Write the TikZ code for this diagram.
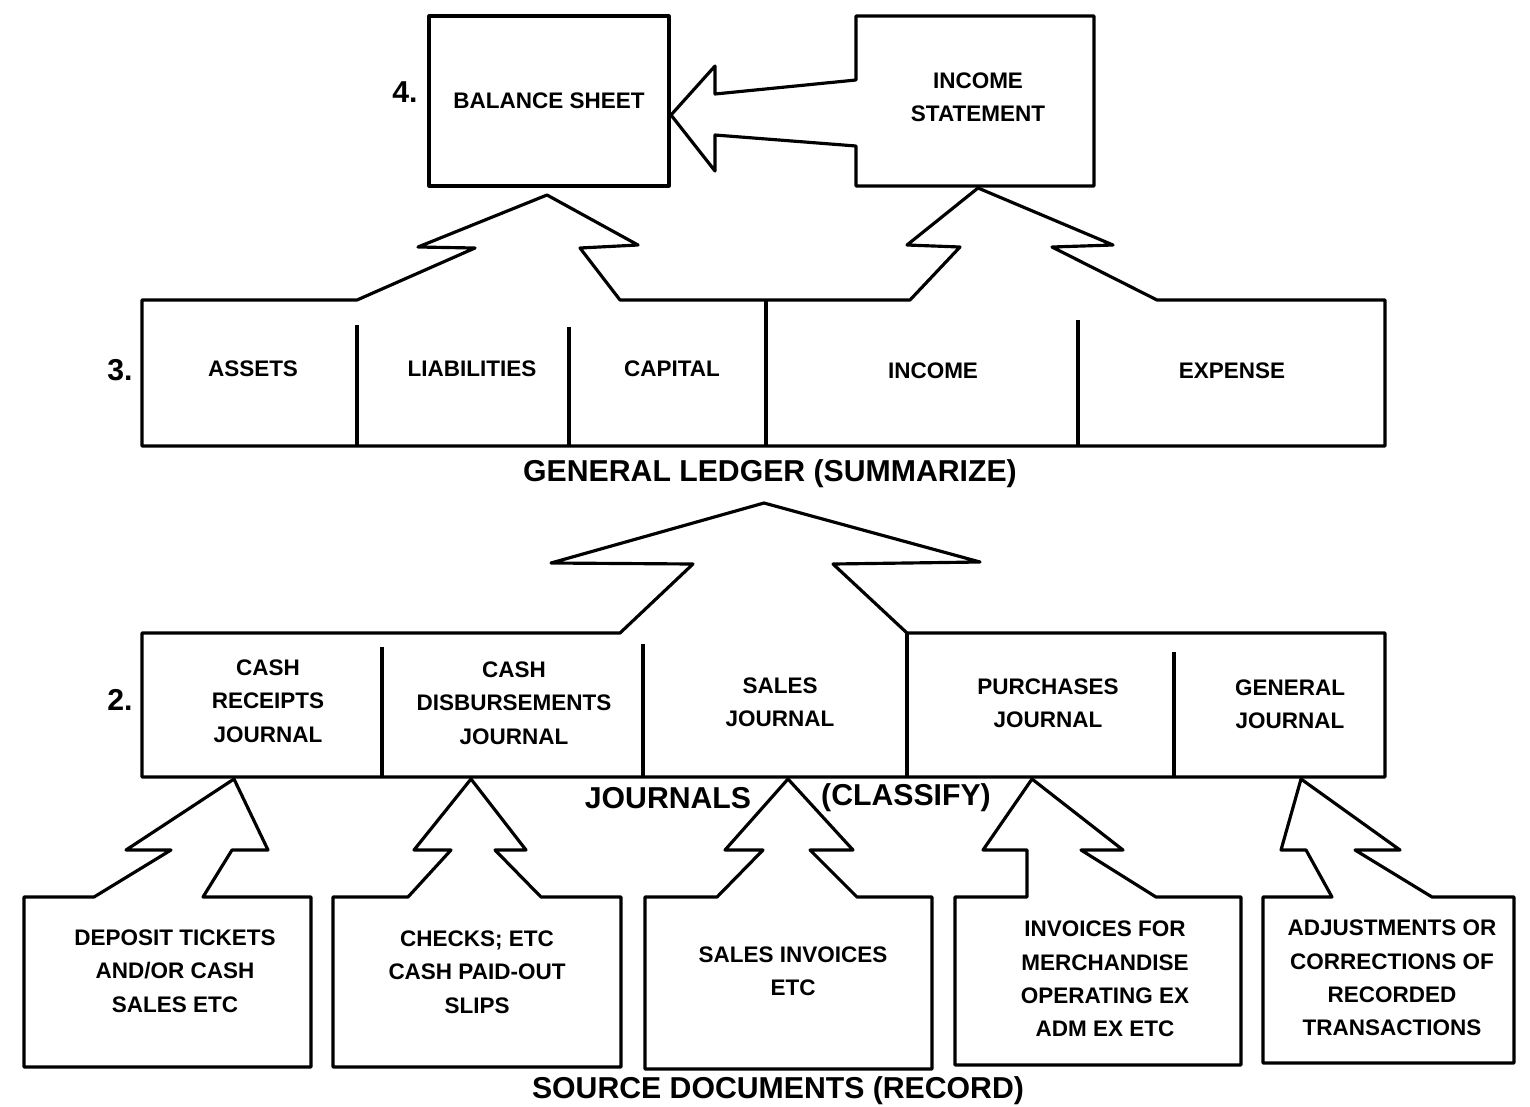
\documentclass[tikz,border=0pt]{standalone}
\usepackage{fontspec}
\setmainfont{Liberation Sans}

\tikzset{
	outline/.style={line width=1.8pt, line join=round},
	boxtext/.style={font=\fontsize{12.8}{19}\selectfont\bfseries, align=center, inner sep=0pt},
	bigtext/.style={font=\fontsize{17.2}{20}\selectfont\bfseries, inner sep=0pt},
}

\begin{document}
\begin{tikzpicture}[x=0.02cm, y=-0.02cm]
	\useasboundingbox (0,0) rectangle (1530,1106);

	\begin{scope}[outline] % 4. statements
		\node[draw, minimum width=4.8cm, minimum height=3.4cm, boxtext] (balance) at (549,101) {BALANCE SHEET};
		\draw (856,16) -- (1094,16) -- (1094,186) -- (856,186) -- (856,146) -- (715,135)
			-- (715,171) -- (671,115) -- (715,66) -- (715,94) -- (856,80) -- cycle;
		\node[boxtext] (incstat) at (978,97) {INCOME\\STATEMENT};
		\node[bigtext] (four) at (405,92) {4.};
	\end{scope}

	\begin{scope}[outline] % 3. general ledger
		\draw (142,300) -- (357,300) -- (475,248) -- (418,247) -- (547,195) -- (638,245) -- (580,248)
			-- (620,300) -- (910,300) -- (960,247) -- (907,245) -- (978,188) -- (1113,245) -- (1052,247)
			-- (1157,300) -- (1385,300) -- (1385,446) -- (142,446) -- cycle;
		\foreach \x/\ytop in {357/325, 569/327, 766/300, 1078/320}
			\draw (\x,\ytop) -- (\x,446);
		\foreach \x/\y/\name/\txt in {253/369/assets/ASSETS, 472/369/liab/LIABILITIES, 672/369/capital/CAPITAL, 933/371/income/INCOME, 1232/371/expense/EXPENSE}
			\node[boxtext] (\name) at (\x,\y) {\txt};
		\node[bigtext] (three) at (120,370) {3.};
		\node[bigtext] (ledger) at (770,474) {GENERAL LEDGER (SUMMARIZE)};
	\end{scope}

	\begin{scope}[outline] % 2. journals
		\draw (142,633) -- (620,633) -- (693,564) -- (551,563) -- (764,503) -- (980,562) -- (833,564)
			-- (907,633) -- (1385,633) -- (1385,777) -- (142,777) -- cycle;
		\foreach \x/\ytop in {382/647, 643/644, 907/633, 1174/652}
			\draw (\x,\ytop) -- (\x,777);
		\foreach \x/\y/\name/\txt in {268/701/cashrec/{CASH\\RECEIPTS\\JOURNAL}, 514/703/cashdis/{CASH\\DISBURSEMENTS\\JOURNAL}, 780/702/salesj/{SALES\\JOURNAL}, 1048/703/purchj/{PURCHASES\\JOURNAL}, 1290/704/genj/{GENERAL\\JOURNAL}}
			\node[boxtext] (\name) at (\x,\y) {\txt};
		\node[bigtext] (two) at (120,700) {2.};
		\node[bigtext] (journals) at (668,798) {JOURNALS};
		\node[bigtext] (classify) at (906,798) {(CLASSIFY)};
	\end{scope}

	\begin{scope}[outline] % 1. source documents
		\draw (24,897) -- (94,897) -- (171,850) -- (126,850) -- (234,779) -- (268,850) -- (232,850)
			-- (203,897) -- (311,897) -- (311,1067) -- (24,1067) -- cycle;
		\draw (333,897) -- (408,897) -- (451,850) -- (414,850) -- (471,779) -- (526,850) -- (495,850)
			-- (541,897) -- (621,897) -- (621,1067) -- (333,1067) -- cycle;
		\draw (645,897) -- (717,897) -- (763,850) -- (725,850) -- (788,779) -- (853,850) -- (810,850)
			-- (857,897) -- (932,897) -- (932,1069) -- (645,1069) -- cycle;
		\draw (955,897) -- (1027,897) -- (1027,850) -- (983,850) -- (1032,779) -- (1123,850) -- (1081,850)
			-- (1156,897) -- (1241,897) -- (1241,1065) -- (955,1065) -- cycle;
		\draw (1263,897) -- (1332,897) -- (1306,850) -- (1281,850) -- (1301,779) -- (1400,850) -- (1355,850)
			-- (1432,897) -- (1514,897) -- (1514,1063) -- (1263,1063) -- cycle;
		\foreach \x/\y/\name/\txt in {175/971/deposit/{DEPOSIT TICKETS\\AND/OR CASH\\SALES ETC}, 477/972/checks/{CHECKS; ETC\\CASH PAID-OUT\\SLIPS}, 793/971/salesinv/{SALES INVOICES\\ETC}, 1105/979/invoices/{INVOICES FOR\\MERCHANDISE\\OPERATING EX\\ADM EX ETC}, 1392/978/adjust/{ADJUSTMENTS OR\\CORRECTIONS OF\\RECORDED\\TRANSACTIONS}}
			\node[boxtext] (\name) at (\x,\y) {\txt};
		\node[bigtext] (source) at (778,1091) {SOURCE DOCUMENTS (RECORD)};
	\end{scope}
\end{tikzpicture}
\end{document}
